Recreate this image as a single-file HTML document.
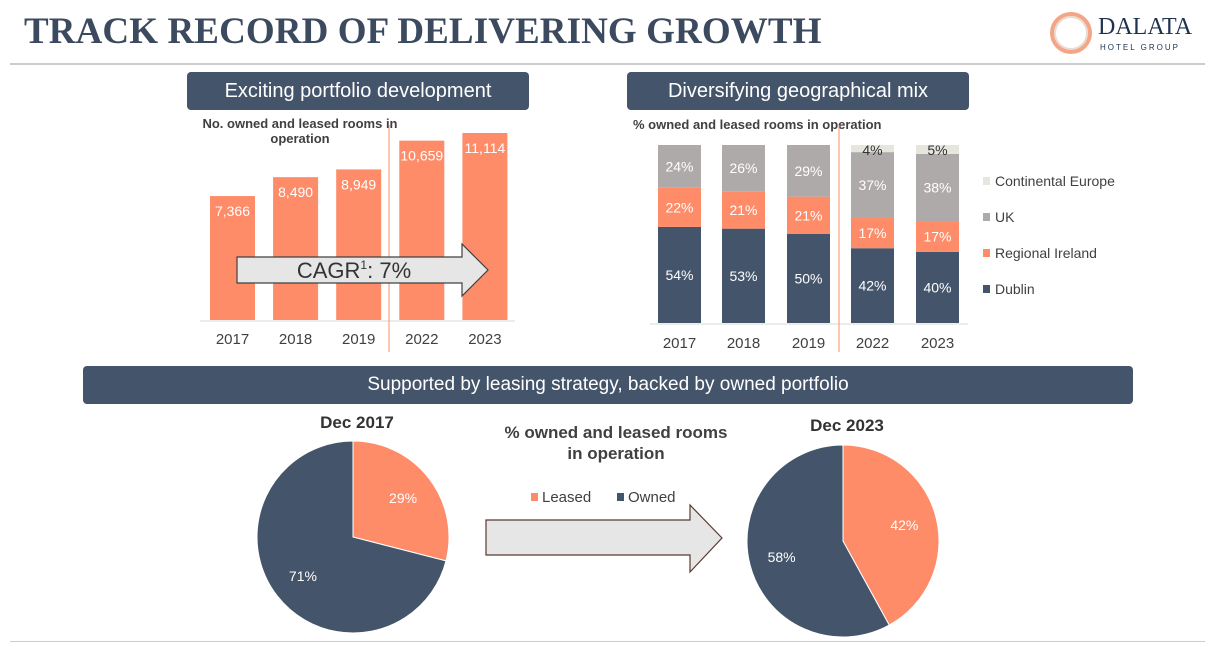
<!DOCTYPE html>
<html><head><meta charset="utf-8">
<style>
body{margin:0;width:1212px;height:651px;background:#fff;font-family:"Liberation Sans",sans-serif;overflow:hidden;position:relative}
.ab{position:absolute}
.banner{position:absolute;background:#44546a;color:#fff;border-radius:4px;text-align:center;font-size:20px}
</style></head><body>
<div class="ab" style="left:24px;top:10px;font-family:'Liberation Serif',serif;font-weight:bold;font-size:37px;color:#3b4a5e;letter-spacing:0.1px">TRACK RECORD OF DELIVERING GROWTH</div>
<div class="ab" style="left:1048px;top:12px;width:160px;height:44px">
  <div class="ab" style="left:2px;top:0;width:34px;height:34px;border-radius:50%;border:4px solid #f4a585;box-shadow:inset 0 0 0 2px #e8ddd4"></div>
  <div class="ab" style="left:50px;top:2px;font-family:'Liberation Serif',serif;font-size:24px;color:#1f3350">DALATA</div>
  <div class="ab" style="left:52px;top:31px;font-size:8px;letter-spacing:2px;color:#1f3350">HOTEL GROUP</div>
</div>
<div class="ab" style="left:10px;top:63px;width:1195px;height:2px;background:#ccc"></div>
<div class="ab" style="left:10px;top:641px;width:1195px;height:1px;background:#ccc"></div>

<div class="banner" style="left:187px;top:72px;width:342px;height:38px;line-height:38px">Exciting portfolio development</div>
<div class="banner" style="left:627px;top:72px;width:342px;height:38px;line-height:38px">Diversifying geographical mix</div>
<div class="banner" style="left:83px;top:366px;width:1050px;height:38px;line-height:38px;font-size:19px">Supported by leasing strategy, backed by owned portfolio</div>

<svg class="ab" style="left:0;top:0" width="1212" height="651" id="svg"></svg>
<script>
const years=["2017","2018","2019","2022","2023"];
const rooms=[7366,8490,8949,10659,11114];
const roomLabels=["7,366","8,490","8,949","10,659","11,114"];
const dublin=[54,53,50,42,40];
const regional=[22,21,21,17,17];
const uk=[24,26,29,37,38];
const contEurope=[0,0,0,4,5];
const pieLabels=["Leased","Owned"];
const pie2017=[29,71];
const pie2023=[42,58];

const S=document.getElementById('svg');const NS="http://www.w3.org/2000/svg";
function el(t,a,p){const e=document.createElementNS(NS,t);for(const k in a)e.setAttribute(k,a[k]);(p||S).appendChild(e);return e;}
function tx(x,y,s,a){const e=el('text',Object.assign({x:x,y:y,'font-family':'Liberation Sans, sans-serif'},a));e.textContent=s;return e;}
const OR="#fe8c69",NAVY="#44546a",GR="#aeaaaa",CE="#e7e6dc";

// bar chart
const base=320,sc=187/11114;
function bx(i){return 210+i*63.1;}
function by(v){return base-v*sc;}
tx(300,128,"No. owned and leased rooms in",{'font-size':13,'font-weight':'bold','fill':'#404040','text-anchor':'middle'});
tx(300,143,"operation",{'font-size':13,'font-weight':'bold','fill':'#404040','text-anchor':'middle'});
rooms.forEach((v,i)=>{
  const r=el('rect',{x:bx(i),y:by(v),width:45,height:base-by(v),fill:OR});
  
  
  tx(bx(i)+22.5,by(v)+20,roomLabels[i],{'font-size':14,'fill':'#fff','text-anchor':'middle'});
  tx(bx(i)+22.5,344,years[i],{'font-size':15,'fill':'#404040','text-anchor':'middle'});
});
el('line',{x1:200,y1:321,x2:515,y2:321,stroke:'#d9d9d9','stroke-width':1});
el('line',{x1:389,y1:125,x2:389,y2:352,stroke:OR,'stroke-width':1});
const ar=el('polygon',{points:"237,257 462,257 462,244 488,270 462,296 462,283 237,283",fill:'#e6e6e6',stroke:'#404040','stroke-width':1.2});


const ct=tx(354,278,"CAGR",{'font-size':22,'fill':'#333','text-anchor':'middle'});
const sup=el('tspan',{'font-size':12,dy:-9},ct);sup.textContent="1";
const rest=el('tspan',{dy:9},ct);rest.textContent=": 7%";

// stacked chart
const sTop=145,sBot=323,sH=178;
const sx=[658,722,787,851,916];
tx(633,129,"% owned and leased rooms in operation",{'font-size':13,'font-weight':'bold','fill':'#404040'});
const series=[[dublin,NAVY,'dublin'],[regional,OR,'regional-ireland'],[uk,GR,'uk'],[contEurope,CE,'continental-europe']];
years.forEach((y,i)=>{
  let acc=0;
  series.forEach(([arr,c,n])=>{
    const v=arr[i];if(!v)return;
    const y1=sBot-(acc+v)/100*sH,h=v/100*sH;
    const r=el('rect',{x:sx[i],y:y1,width:43,height:h,fill:c});
    
    
    const dark=(n==='continental-europe');
    tx(sx[i]+21.5,dark?y1+10:y1+h/2+5,v+"%",{'font-size':14,'fill':dark?'#333':'#fff','text-anchor':'middle'});
    acc+=v;
  });
  tx(sx[i]+21.5,348,y,{'font-size':15,'fill':'#404040','text-anchor':'middle'});
});
el('line',{x1:650,y1:324,x2:968,y2:324,stroke:'#d9d9d9'});
el('line',{x1:839,y1:125,x2:839,y2:352,stroke:OR});
[["Continental Europe",CE,182],["UK",GR,218],["Regional Ireland",OR,254],["Dublin",NAVY,290]].forEach(([n,c,y])=>{
  const r=el('rect',{x:983,y:y-5,width:7,height:8,fill:c});
  
  
  tx(995,y+4,n,{'font-size':14,'fill':'#404040'});
});

// pies
function pie(cx,cy,r,vals,title,ty){
  tx(cx+4,ty,title,{'font-size':17,'font-weight':'bold','fill':'#333','text-anchor':'middle'});
  let a0=0;const tot=vals[0]+vals[1];
  vals.forEach((v,i)=>{
    const a1=a0+v/tot*2*Math.PI;
    const p=(a)=>[cx+r*Math.sin(a),cy-r*Math.cos(a)];
    const [x0,y0]=p(a0),[x1,y1]=p(a1);
    const s=el('path',{d:`M${cx},${cy}L${x0},${y0}A${r},${r} 0 ${a1-a0>Math.PI?1:0} 1 ${x1},${y1}Z`,fill:i?NAVY:OR,stroke:'#fff','stroke-width':1});
    
    
    const am=(a0+a1)/2,lr=r*0.66;
    tx(cx+lr*Math.sin(am),cy-lr*Math.cos(am)+5,v+"%",{'font-size':14,'fill':'#fff','text-anchor':'middle'});
    a0=a1;
  });
}
pie(353,537,96,pie2017,"Dec 2017",428);
pie(843,541,96,pie2023,"Dec 2023",431);

tx(616,438,"% owned and leased rooms",{'font-size':17,'font-weight':'bold','fill':'#404040','text-anchor':'middle'});
tx(616,459,"in operation",{'font-size':17,'font-weight':'bold','fill':'#404040','text-anchor':'middle'});
el('rect',{x:531,y:493,width:7,height:8,fill:OR});
tx(542,502,"Leased",{'font-size':15,'fill':'#404040'});
el('rect',{x:617,y:493,width:7,height:8,fill:NAVY});
tx(628,502,"Owned",{'font-size':15,'fill':'#404040'});
const a2=el('polygon',{points:"486,520 690,520 690,505 722,538 690,572 690,555 486,555",fill:'#e6e6e6',stroke:'#5a3a30','stroke-width':1.2});


</script>
</body></html>
